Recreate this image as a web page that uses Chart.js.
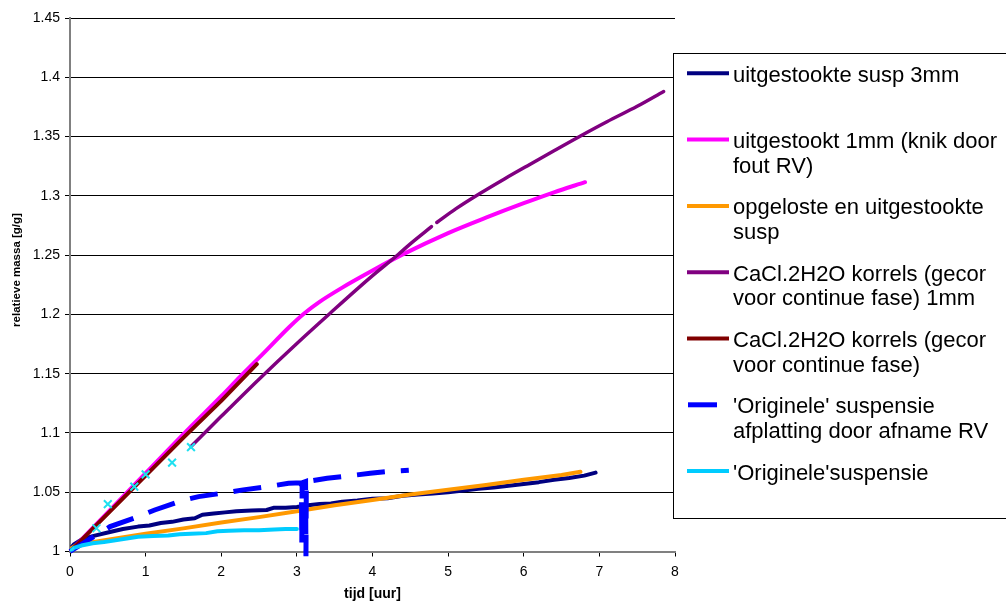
<!DOCTYPE html>
<html>
<head>
<meta charset="utf-8">
<script src="https://cdn.jsdelivr.net/npm/chart.js@4.4.1/dist/chart.umd.min.js"></script>
<style>
  body { margin: 0; background: #fff; }
  #wrap { width: 1006px; height: 603px; }
</style>
</head>
<body>
<div id="wrap"><canvas id="massChart" width="1006" height="603"></canvas></div>
<script>
// tijd [uur] against relatieve massa [g/g]
const susp3mmT = [0, 0.05, 0.15, 0.3, 0.5, 0.7, 0.9, 1.05, 1.2, 1.35, 1.5, 1.65, 1.75, 1.9, 2.05, 2.2, 2.4, 2.6, 2.7, 2.85,
  3.0, 3.15, 3.3, 3.45, 3.6, 3.8, 4.0, 4.2, 4.4, 4.6, 4.8, 5.0, 5.2, 5.4, 5.6, 5.8, 6.0, 6.2, 6.4, 6.6, 6.8, 6.95];
const susp3mmM = [1.002, 1.006, 1.010, 1.013, 1.016, 1.019, 1.021, 1.022, 1.024, 1.025, 1.027, 1.028, 1.031, 1.032, 1.033, 1.034, 1.0345, 1.035, 1.037, 1.037,
  1.0375, 1.039, 1.040, 1.0405, 1.042, 1.043, 1.0445, 1.045, 1.047, 1.048, 1.049, 1.050, 1.0515, 1.053, 1.054, 1.0555, 1.057, 1.0585, 1.0605, 1.062, 1.064, 1.0665];

const stookt1mmT = [0, 0.5, 1.0, 1.5, 2.0, 2.25, 2.56, 2.9, 3.1, 3.3, 3.6, 4.0, 4.4, 5.0, 5.5, 6.0, 6.4, 6.81];
const stookt1mmM = [1.0, 1.033, 1.066, 1.099, 1.131, 1.1475, 1.1673, 1.1894, 1.201, 1.2106, 1.2226, 1.237, 1.2506, 1.2686, 1.2816, 1.2938, 1.303, 1.3115];

const opgelostT = [0, 0.1, 0.5, 1.0, 1.5, 2.0, 2.5, 3.0, 3.5, 4.0, 4.5, 5.0, 5.5, 6.0, 6.5, 6.75];
const opgelostM = [1.002, 1.006, 1.010, 1.015, 1.0195, 1.0245, 1.029, 1.034, 1.039, 1.0435, 1.048, 1.052, 1.056, 1.0605, 1.0645, 1.0672];

const korrels1mmT = [1.6, 2.0, 2.51, 3.0, 3.44, 3.97, 4.34, 4.5, 4.78, 4.81, 4.85, 5.1, 5.42, 5.75, 6.08, 6.4, 6.75, 7.1, 7.5, 7.85];
const korrels1mmM = [1.0885, 1.114, 1.146, 1.1755, 1.201, 1.231, 1.2505, 1.2595, 1.274, null, 1.2775, 1.289, 1.302, 1.3145, 1.3265, 1.338, 1.3505, 1.3625, 1.3755, 1.388];

const korrelsT = [0, 0.5, 1.0, 1.5, 2.0, 2.47];
const korrelsM = [1.0, 1.032, 1.064, 1.096, 1.127, 1.158];

const afplatT = [0, 0.53, 0.9, 1.12, 1.48, 1.7, 2.07, 2.29, 2.67, 2.89, 3.06, 3.065, 3.07, 3.115, 3.12, 3.125, 3.4, 3.61, 3.97, 4.19, 4.48];
const afplatM = [1.0, 1.021, 1.0294, 1.035, 1.0429, 1.0463, 1.0497, 1.052, 1.0553, 1.0576, 1.058, 1.006, 1.058, 1.059, 0.996, 1.059, 1.0618, 1.0632, 1.066, 1.0674, 1.0685];

const origineelT = [0, 0.05, 0.15, 0.3, 0.45, 0.6, 0.75, 0.9, 1.1, 1.3, 1.45, 1.6, 1.8, 1.95, 2.1, 2.3, 2.5, 2.7, 2.85, 3.0];
const origineelM = [1.0, 1.003, 1.005, 1.007, 1.008, 1.0095, 1.011, 1.0125, 1.013, 1.0135, 1.0145, 1.015, 1.0155, 1.017, 1.0175, 1.018, 1.018, 1.0185, 1.019, 1.019];

// loose measurement points (x markers, not in the legend)
const metingT = [0, 0.35, 0.5, 0.85, 1.0, 1.35, 1.6];
const metingM = [1.0, 1.0196, 1.040, 1.0547, 1.065, 1.075, 1.088];

const xTicks = [0, 1, 2, 3, 4, 5, 6, 7, 8];
const yTicks = [1, 1.05, 1.1, 1.15, 1.2, 1.25, 1.3, 1.35, 1.4, 1.45];
const yTickLabels = ["1", "1.05", "1.1", "1.15", "1.2", "1.25", "1.3", "1.35", "1.4", "1.45"];

const legendLabels = [
  ["uitgestookte susp 3mm"],
  ["uitgestookt 1mm (knik door", "fout RV)"],
  ["opgeloste en uitgestookte", "susp"],
  ["CaCl.2H2O korrels (gecor", "voor continue fase) 1mm"],
  ["CaCl.2H2O korrels (gecor", "voor continue fase)"],
  ["'Originele' suspensie", "afplatting door afname RV"],
  ["'Originele'suspensie"],
];

const FONT = "'Liberation Sans', Arial, sans-serif";

function pts(t, m) {
  return t.map((x, i) => ({ x: x, y: m[i] }));
}

function serie(label, t, m, color, width, order) {
  return {
    label: label,
    data: pts(t, m),
    borderColor: color,
    backgroundColor: color,
    borderWidth: width,
    borderCapStyle: "round",
    borderJoinStyle: "round",
    pointRadius: 0,
    fill: false,
    spanGaps: false,
    order: order,
  };
}

const datasets = [
  serie(legendLabels[0].join(" "), susp3mmT, susp3mmM, "#000080", 4, 7),
  Object.assign(serie(legendLabels[1].join(" "), stookt1mmT, stookt1mmM, "#FF00FF", 4, 6), { cubicInterpolationMode: "monotone" }),
  serie(legendLabels[2].join(" "), opgelostT, opgelostM, "#FF9900", 4, 5),
  Object.assign(serie(legendLabels[3].join(" "), korrels1mmT, korrels1mmM, "#800080", 3.5, 4), { cubicInterpolationMode: "monotone" }),
  serie(legendLabels[4].join(" "), korrelsT, korrelsM, "#800000", 4, 3),
  Object.assign(serie(legendLabels[5].join(" "), afplatT, afplatM, "#0000FF", 5, 2), {
    borderDash: [28, 16],
    borderCapStyle: "butt",
    borderJoinStyle: "miter",
    clip: 6,
  }),
  serie(legendLabels[6].join(" "), origineelT, origineelM, "#00CCFF", 4, 1),
  {
    label: "metingen",
    data: pts(metingT, metingM),
    showLine: false,
    pointStyle: "crossRot",
    pointRadius: 5.5,
    pointBorderWidth: 2,
    pointBorderColor: "#20E0F0",
    borderColor: "#20E0F0",
    order: 0,
  },
];

// legend box on the right, cut off by the picture edge like the original
const boxLegend = {
  id: "boxLegend",
  afterDraw(chart) {
    const ctx = chart.ctx;
    ctx.save();
    ctx.fillStyle = "#fff";
    ctx.fillRect(673, 53, 340, 465);
    ctx.strokeStyle = "#000";
    ctx.lineWidth = 1;
    ctx.strokeRect(673.5, 53.5, 340, 465);

    ctx.font = "22px " + FONT;
    ctx.textBaseline = "alphabetic";
    ctx.textAlign = "left";
    legendLabels.forEach((lines, i) => {
      const ds = chart.data.datasets[i];
      const y = 73.3 + i * 66.3;
      ctx.beginPath();
      ctx.strokeStyle = ds.borderColor;
      ctx.lineCap = "butt";
      if (ds.borderDash) {
        ctx.lineWidth = 5;
        ctx.moveTo(688, y);
        ctx.lineTo(717, y);
      } else {
        ctx.lineWidth = 4;
        ctx.moveTo(687, y);
        ctx.lineTo(729, y);
      }
      ctx.stroke();
      ctx.fillStyle = "#000";
      lines.forEach((txt, j) => {
        ctx.fillText(txt, 733, y + 8.5 + j * 24.5);
      });
    });

    // y axis title
    ctx.translate(17, 270);
    ctx.rotate(-Math.PI / 2);
    ctx.font = "bold 11.5px " + FONT;
    ctx.textAlign = "center";
    ctx.textBaseline = "middle";
    ctx.fillText("relatieve massa [g/g]", 0, 0);
    ctx.restore();
  },
};

const ctx = document.getElementById("massChart").getContext("2d");
const massChart = new Chart(ctx, {
  type: "line",
  data: { datasets: datasets },
  options: {
    responsive: false,
    animation: false,
    devicePixelRatio: 1,
    layout: { padding: { top: 18, right: 331, bottom: 0, left: 0 } },
    plugins: {
      legend: { display: false },
      tooltip: { enabled: false },
    },
    scales: {
      x: {
        type: "linear",
        min: 0,
        max: 8,
        afterBuildTicks: (scale) => {
          scale.ticks = xTicks.map((v) => ({ value: v }));
        },
        afterFit: (scale) => {
          scale.height = 51.5;
        },
        ticks: {
          color: "#000",
          font: { family: FONT, size: 14 },
          padding: 7,
          maxRotation: 0,
        },
        grid: {
          drawOnChartArea: false,
          drawTicks: true,
          tickLength: 5,
          color: "#000",
        },
        border: { color: "#808080", width: 2 },
        title: {
          display: true,
          text: "tijd [uur]",
          color: "#000",
          font: { family: FONT, size: 14, weight: "bold" },
          padding: { top: 0, bottom: 0 },
        },
      },
      y: {
        type: "linear",
        min: 1,
        max: 1.45,
        afterBuildTicks: (scale) => {
          scale.ticks = yTicks.map((v) => ({ value: v }));
        },
        afterFit: (scale) => {
          scale.width = 70;
        },
        ticks: {
          color: "#000",
          font: { family: FONT, size: 14 },
          padding: 5,
          callback: (v, i) => yTickLabels[i],
        },
        grid: {
          color: "#000",
          lineWidth: 1,
          tickLength: 5,
        },
        border: { color: "#808080", width: 2 },
      },
    },
  },
  plugins: [boxLegend],
});
</script>
</body>
</html>
